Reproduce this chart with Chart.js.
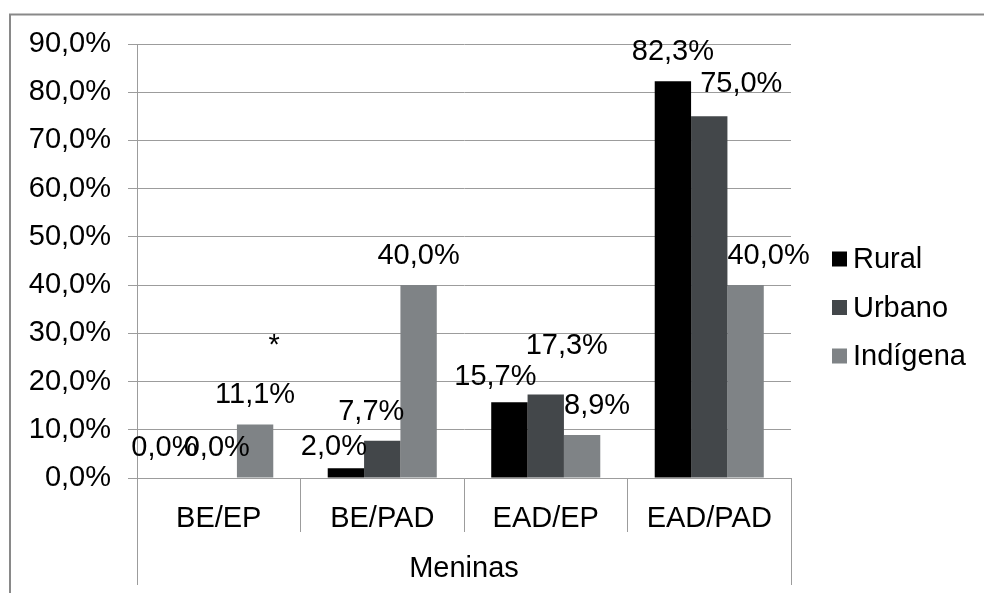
<!DOCTYPE html>
<html>
<head>
<meta charset="utf-8">
<script src="https://cdn.jsdelivr.net/npm/chart.js@4/dist/chart.umd.min.js"></script>
<style>
  html, body { margin: 0; padding: 0; background: #ffffff; }
  #wrap { width: 984px; height: 593px; position: relative; }
</style>
</head>
<body>
<div id="wrap"><canvas id="c" width="984" height="593"></canvas></div>
<script>
// Categories, group and series
const categories = ['BE/EP', 'BE/PAD', 'EAD/EP', 'EAD/PAD'];
const groupLabels = ['Meninas'];
const seriesNames = ['Rural', 'Urbano', 'Indígena'];

// Percentages per category
const rural    = [0.0, 2.0, 15.7, 82.3];
const urbano   = [0.0, 7.7, 17.3, 75.0];
const indigena = [11.1, 40.0, 8.9, 40.0];

// Value axis range
const yMin = 0;
const yMax = 90;
const yStep = 10;

const seriesColors = ['#000000', '#43474a', '#7f8386'];
const gridColor = '#9c9c9c';
const FONT = "'Liberation Sans', Arial, sans-serif";
const FS = 29;

// hand-placed nudges [dx, dy] of each value label from its spot above the bar
const labelNudges = [
  [[-18, -1], [-12, 8], [-14, 4], [0, 0]],
  [[-2, -1], [-11, 0], [21, -20], [32, -3]],
  [[0, 0], [0, 0], [15, 0], [23, 0]]
];

const fmt = v => v.toFixed(1).replace('.', ',') + '%';

// grey frame along the top and left edges
const framePlugin = {
  id: 'frame',
  beforeDraw(chart) {
    const ctx = chart.ctx;
    ctx.save();
    ctx.strokeStyle = '#898989';
    ctx.lineWidth = 2;
    ctx.beginPath();
    ctx.moveTo(10, chart.height);
    ctx.lineTo(10, 14.5);
    ctx.lineTo(chart.width, 14.5);
    ctx.stroke();
    ctx.restore();
  }
};

// value labels above the bars, plus the asterisk note
const valueLabelPlugin = {
  id: 'valueLabels',
  afterDatasetsDraw(chart) {
    const ctx = chart.ctx;
    ctx.save();
    ctx.font = FS + 'px ' + FONT;
    ctx.fillStyle = '#000000';
    ctx.textAlign = 'center';
    ctx.textBaseline = 'middle';
    chart.data.datasets.forEach((ds, di) => {
      const meta = chart.getDatasetMeta(di);
      meta.data.forEach((bar, i) => {
        const [dx, dy] = labelNudges[di][i];
        ctx.fillText(fmt(ds.data[i]), bar.x + dx, bar.y - 29 + dy);
      });
    });
    // asterisk beside the first Indígena bar
    const ind = chart.getDatasetMeta(2).data[0];
    ctx.fillText('*', ind.x + 19, ind.y - 78);
    ctx.restore();
  }
};

// legend to the right of the plot
const sideLegendPlugin = {
  id: 'sideLegend',
  afterDraw(chart) {
    const ctx = chart.ctx;
    const area = chart.chartArea;
    const midY = (area.top + area.bottom) / 2 + 46.5;
    ctx.save();
    ctx.font = FS + 'px ' + FONT;
    ctx.textAlign = 'left';
    ctx.textBaseline = 'middle';
    chart.data.datasets.forEach((ds, i) => {
      const cy = midY + (i - 1) * 48.5;
      ctx.fillStyle = ds.backgroundColor;
      ctx.fillRect(area.right + 41, cy - 7.5, 15, 15);
      ctx.fillStyle = '#000000';
      ctx.fillText(ds.label, area.right + 62, cy + 1);
    });
    ctx.restore();
  }
};

const seriesData = [rural, urbano, indigena];

new Chart(document.getElementById('c'), {
  type: 'bar',
  data: {
    labels: categories,
    datasets: seriesNames.map((name, i) => ({
      label: name,
      data: seriesData[i],
      backgroundColor: seriesColors[i],
      borderWidth: 0,
      xAxisID: 'x',
      yAxisID: 'y',
      categoryPercentage: 0.667,
      barPercentage: 1.0
    }))
  },
  options: {
    responsive: false,
    animation: false,
    devicePixelRatio: 1,
    layout: { padding: { top: 44, left: 0, right: 193, bottom: 8 } },
    plugins: {
      legend: { display: false },
      tooltip: { enabled: false }
    },
    scales: {
      y: {
        min: yMin,
        max: yMax,
        ticks: {
          stepSize: yStep,
          callback: v => fmt(v),
          font: { family: FONT, size: FS },
          color: '#000000',
          padding: 17
        },
        grid: { color: gridColor, tickLength: 9, lineWidth: 1 },
        border: { color: gridColor },
        afterFit(s) { s.width = 137; }
      },
      x: {
        type: 'category',
        weight: 0,
        ticks: {
          font: { family: FONT, size: FS },
          color: '#000000',
          padding: -30
        },
        grid: { offset: true, drawOnChartArea: false, tickLength: 54, color: gridColor },
        border: { color: gridColor },
        afterFit(s) { s.height = 54; }
      },
      x2: {
        type: 'category',
        position: 'bottom',
        weight: 10,
        labels: groupLabels,
        offset: true,
        ticks: {
          font: { family: FONT, size: FS },
          color: '#000000',
          padding: -33
        },
        grid: { offset: true, drawOnChartArea: false, tickLength: 53, color: gridColor },
        border: { display: false },
        afterFit(s) { s.height = 53; }
      }
    }
  },
  plugins: [framePlugin, valueLabelPlugin, sideLegendPlugin]
});
</script>
</body>
</html>
